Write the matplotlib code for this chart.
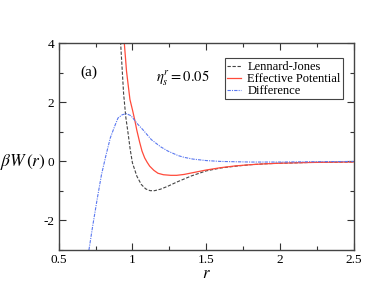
import numpy as np
import matplotlib
matplotlib.use("Agg")
import matplotlib.pyplot as plt
from matplotlib.ticker import MultipleLocator

plt.rcParams["font.family"] = ["Liberation Serif", "DejaVu Serif"]
plt.rcParams["mathtext.fontset"] = "stix"
plt.rcParams["axes.unicode_minus"] = False

# valores
r_lj = [0.915, 0.92, 0.94, 0.955, 0.97, 0.985, 1.00, 1.03, 1.06, 1.09, 1.12, 1.15,
        1.19, 1.24, 1.30, 1.40, 1.50, 1.60, 1.70, 1.80, 1.90, 2.00, 2.20, 2.50]
w_lj = [4.4, 4.0, 2.3, 1.5, 0.97, 0.4, -0.05, -0.5, -0.78, -0.93, -0.99, -0.99,
        -0.94, -0.84, -0.7, -0.49, -0.32, -0.22, -0.16, -0.11, -0.08, -0.06, -0.035, -0.016]

r_eff = [0.94, 0.945, 0.96, 0.983, 1.00, 1.015, 1.03, 1.049, 1.065, 1.083, 1.10, 1.117,
         1.145, 1.173, 1.21, 1.26, 1.30, 1.35, 1.40, 1.45, 1.50, 1.60, 1.70, 1.80,
         1.90, 2.00, 2.20, 2.50]
w_eff = [4.4, 4.0, 3.05, 2.1, 1.75, 1.42, 1.05, 0.65, 0.35, 0.12, -0.03, -0.16,
         -0.3, -0.4, -0.45, -0.47, -0.47, -0.44, -0.39, -0.34, -0.29, -0.21, -0.15, -0.11,
         -0.08, -0.06, -0.035, -0.016]

r_dif = [0.705, 0.73, 0.76, 0.79, 0.82, 0.85, 0.88, 0.902, 0.93, 0.958, 0.99, 1.038,
         1.07, 1.128, 1.19, 1.241, 1.309, 1.35, 1.41, 1.50, 1.60, 1.80, 2.00, 2.20, 2.50]
w_dif = [-3.0, -2.2, -1.3, -0.45, 0.2, 0.8, 1.2, 1.47, 1.58, 1.62, 1.55, 1.25,
         1.08, 0.74, 0.5, 0.35, 0.2, 0.14, 0.08, 0.03, 0.0, -0.02, -0.02, -0.01, 0.0]

fig = plt.figure(figsize=(3.82, 2.95), dpi=100)
ax = fig.add_axes([0.1537, 0.1525, 0.772, 0.7005])

ax.plot(r_lj, w_lj, color="#444444", lw=0.8, ls=(0, (3, 1.5)), label="Lennard-Jones")
ax.plot(r_eff, w_eff, color="#ff4a3a", lw=0.9, label="Effective Potential")
ax.plot(r_dif, w_dif, color="#5a78f0", lw=0.8, ls=(0, (3, 1, 1, 1)), label="Difference")

ax.set_xlim(0.5, 2.5)
ax.set_ylim(-3, 4)
ax.xaxis.set_minor_locator(MultipleLocator(0.25))
ax.yaxis.set_minor_locator(MultipleLocator(1))
ax.set_xticks([0.5, 1, 1.5, 2, 2.5])
ax.set_xticklabels(["0.5", "1", "1.5", "2", "2.5"])
ax.set_yticks([-2, 0, 2, 4])
ax.set_yticklabels(["-2", "0", "2", "4"])
ax.tick_params(which="both", direction="in", top=True, right=True,
               labelsize=9.5, color="#333333", pad=3)
ax.tick_params(which="major", length=5, width=0.8)
ax.tick_params(which="minor", length=3, width=0.8)
for s in ax.spines.values():
    s.set_color("#444444")
    s.set_linewidth(1.0)

ax.set_xlabel(r"$r$", fontsize=12, labelpad=0)
fig.text(0.0, 0.4525, r"$\beta W\,(r)$", fontsize=12.5, va="center", ha="left")

ax.text(0.65, 3.03, "(a)", fontsize=11, va="center", ha="left")
ax.text(1.157, 2.8, r"$\eta_s^r = 0.05$", fontsize=10.5, va="center", ha="left")

leg = ax.legend(loc="upper right", bbox_to_anchor=(0.965, 0.927), fontsize=9,
                handlelength=1.1, handletextpad=0.5, labelspacing=0.0,
                borderpad=0.2, borderaxespad=0, fancybox=False, framealpha=1)
leg.get_frame().set_edgecolor("#444444")
leg.get_frame().set_linewidth(0.8)

fig.savefig("out.png", dpi=100)
